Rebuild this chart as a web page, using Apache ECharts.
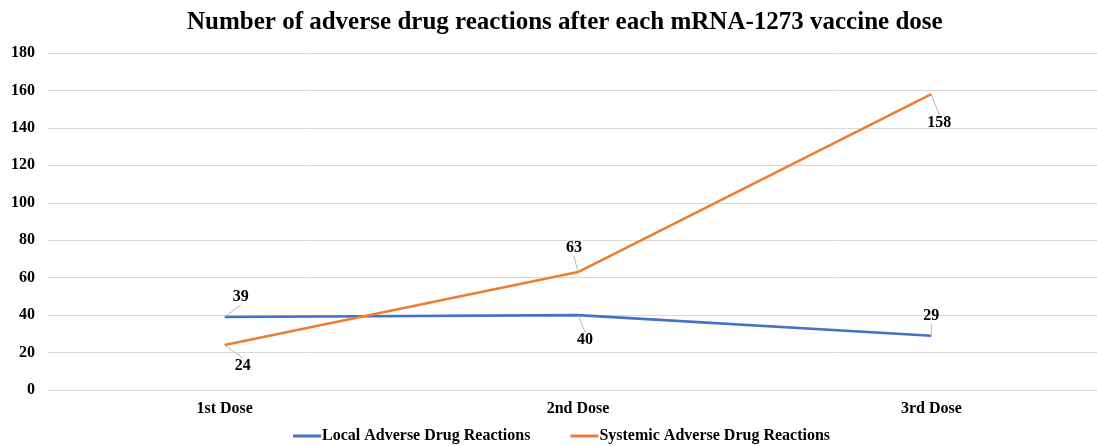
<!DOCTYPE html>
<html>
<head>
<meta charset="utf-8">
<script src="https://cdn.jsdelivr.net/npm/echarts@6/dist/echarts.min.js"></script>
<style>
  html, body { margin: 0; padding: 0; background: #fff; }
  #chart { width: 1097px; height: 446px; }
</style>
</head>
<body>
<div id="chart"></div>
<script>
// Doses and reaction counts
const doses = ['1st Dose', '2nd Dose', '3rd Dose'];
const localReactions = [39, 40, 29];
const systemicReactions = [24, 63, 158];

// Offsets of each value label from its point (label centre, px)
const localLabelOffsets = [[16, -20], [7, 25], [0, -20]];
const systemicLabelOffsets = [[18, 21], [-4, -24], [8, 29]];

const FONT = '"Liberation Serif", "Times New Roman", serif';

const chart = echarts.init(document.getElementById('chart'), null, { renderer: 'canvas' });

function labelledSeries(name, values, color, offsets) {
  return {
    name: name,
    type: 'line',
    data: values,
    showSymbol: true,
    symbol: 'circle',
    symbolSize: 0.1,
    lineStyle: { color: color, width: 2.6 },
    itemStyle: { color: color },
    label: {
      show: true,
      position: 'inside',
      color: '#000',
      fontFamily: FONT,
      fontWeight: 'bold',
      fontSize: 16
    },
    labelLine: {
      show: true,
      lineStyle: { color: '#B8B8B8', width: 1 }
    },
    labelLayout: function (p) {
      const o = offsets[p.dataIndex];
      return { dx: o[0], dy: o[1] };
    },
    emphasis: { disabled: true }
  };
}

chart.setOption({
  animation: false,
  backgroundColor: '#fff',
  title: {
    text: 'Number of adverse drug reactions after each mRNA-1273 vaccine dose',
    left: 182,
    top: 5,
    textStyle: {
      fontFamily: FONT,
      fontWeight: 'bold',
      fontSize: 25,
      color: '#000'
    }
  },
  legend: {
    top: 428,
    left: 293,
    padding: 0,
    itemGap: 40,
    itemWidth: 28,
    itemHeight: 3,
    icon: 'rect',
    textStyle: {
      fontFamily: FONT,
      fontWeight: 'bold',
      fontSize: 16,
      color: '#000',
      padding: [0, 0, 0, -4]
    },
    data: ['Local Adverse Drug Reactions', 'Systemic Adverse Drug Reactions']
  },
  grid: {
    left: 48, top: 53, width: 1060, height: 337,
    containLabel: false,
    outerBoundsMode: 'none'
  },
  xAxis: {
    type: 'category',
    data: doses,
    boundaryGap: true,
    axisLine: { show: true, lineStyle: { color: '#D9D9D9', width: 1 } },
    axisTick: { show: false },
    axisLabel: {
      margin: 11,
      color: '#000',
      fontFamily: FONT,
      fontWeight: 'bold',
      fontSize: 16
    }
  },
  yAxis: {
    type: 'value',
    min: 0,
    max: 180,
    interval: 20,
    axisLine: { show: false },
    axisTick: { show: false },
    splitLine: { lineStyle: { color: '#D9D9D9', width: 1 } },
    axisLabel: {
      margin: 13,
      color: '#000',
      fontFamily: FONT,
      fontWeight: 'bold',
      fontSize: 16
    }
  },
  series: [
    labelledSeries('Local Adverse Drug Reactions', localReactions, '#4472C4', localLabelOffsets),
    labelledSeries('Systemic Adverse Drug Reactions', systemicReactions, '#ED7D31', systemicLabelOffsets)
  ]
});
</script>
</body>
</html>
